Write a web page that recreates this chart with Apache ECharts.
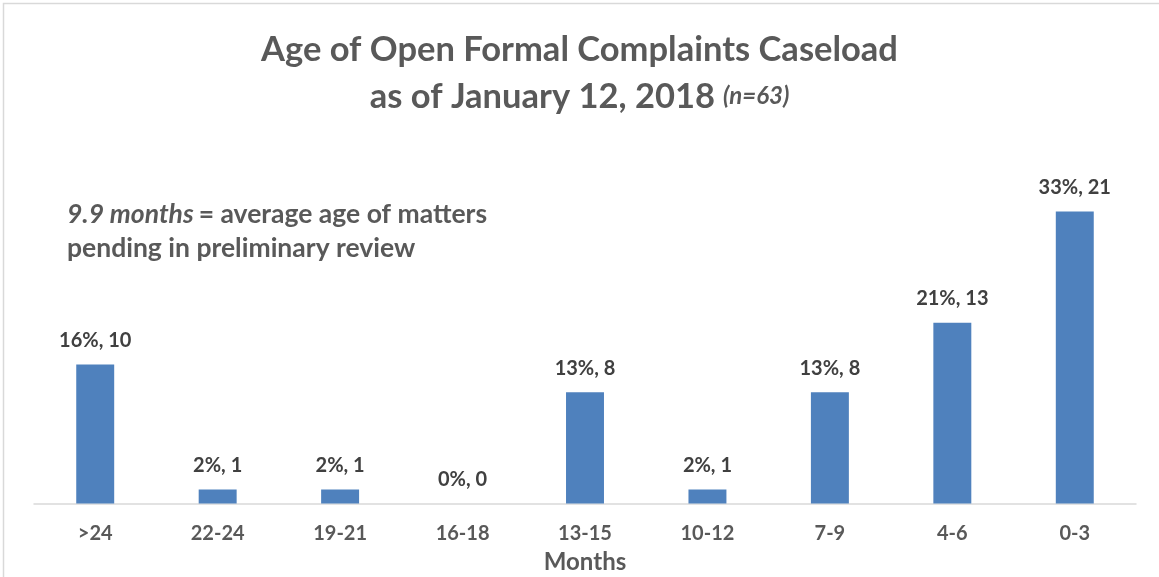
<!DOCTYPE html>
<html><head><meta charset="utf-8">
<script src="https://cdn.jsdelivr.net/npm/echarts@6/dist/echarts.min.js"></script>
<style>html,body{margin:0;padding:0;background:#fff}#c{width:1159px;height:577px}</style>
</head><body><div id="c"></div>
<script>
const categories = ['>24','22-24','19-21','16-18','13-15','10-12','7-9','4-6','0-3'];
const counts = [10,1,1,0,8,1,8,13,21];
const percents = [16,2,2,0,13,2,13,21,33];

const FONT = 'Lato';
const chart = echarts.init(document.getElementById('c'));
chart.setOption({
  backgroundColor: '#fff',
  animation: false,
  graphic: [{
    type: 'rect', shape: {x: 3.5, y: 3.5, width: 1200, height: 700},
    style: {fill: 'none', stroke: '#d9d9d9', lineWidth: 1.5}, silent: true
  }],
  title: [{
    left: 'center', top: 21,
    text: '{a|Age of Open Formal Complaints Caseload}\n{a|as of January 12, 2018}{s| }{b|(n=63)}',
    textStyle: {
      rich: {
        a: {fontFamily: FONT, fontWeight: 'bold', fontSize: 34.5, color: '#595959', lineHeight: 47},
        s: {fontFamily: FONT, fontSize: 24, width: 8, lineHeight: 47},
        b: {fontFamily: FONT, fontStyle: 'italic', fontSize: 24, color: '#595959', lineHeight: 47}
      }
    }
  }, {
    left: 62, top: 192,
    text: '{i|9.9 months} {n|= average age of matters}\n{n|pending in preliminary review}',
    textStyle: {
      rich: {
        i: {fontFamily: FONT, fontWeight: 'bold', fontStyle: 'italic', fontSize: 26.5, color: '#595959', lineHeight: 34},
        n: {fontFamily: FONT, fontWeight: 'bold', fontSize: 26.5, color: '#595959', lineHeight: 34}
      }
    }
  }],
  grid: {left: 34, right: 23, top: 156, bottom: 73.5, containLabel: false, outerBoundsMode: 'none'},
  xAxis: {
    type: 'category', data: categories,
    name: 'Months', nameLocation: 'middle', nameGap: 47,
    nameTextStyle: {fontFamily: FONT, fontWeight: 'bold', fontSize: 24, color: '#595959', verticalAlign: 'top'},
    axisLine: {lineStyle: {color: '#d9d9d9', width: 1.5}},
    axisTick: {show: false},
    axisLabel: {fontFamily: FONT, fontWeight: 'bold', fontSize: 20, color: '#595959', margin: 20}
  },
  yAxis: {type: 'value', min: 0, max: 25, show: false, splitLine: {show: false}},
  series: [{
    type: 'bar', data: counts, barWidth: '31%',
    itemStyle: {color: '#4f81bd'},
    label: {
      show: true, position: 'top', distance: 14,
      fontFamily: FONT, fontWeight: 'bold', fontSize: 20, color: '#404040',
      formatter: p => percents[p.dataIndex] + '%, ' + p.value
    }
  }]
});
</script></body></html>
